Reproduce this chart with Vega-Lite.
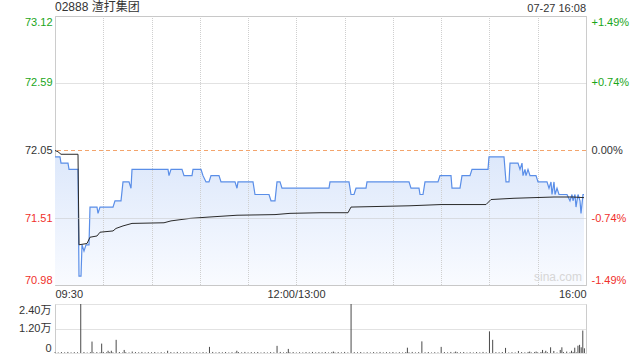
{
  "$schema": "https://vega.github.io/schema/vega-lite/v6.json",
  "padding": {"left": 18, "top": 0, "right": 0, "bottom": 0},
  "background": "white",
  "spacing": 1,
  "config": {
    "font": "Liberation Sans",
    "view": {"stroke": "#cccccc"},
    "axis": {"labelFont": "Liberation Sans, Noto Sans CJK SC", "labelFontSize": 11, "ticks": false, "domain": false, "title": null, "gridColor": "#c4c4c4", "gridDash": [1, 1], "labelColor": "#333333"}
  },
  "datasets": {
    "ref": [{"prevClose": 72.05}],
    "timeGrid": [{"t": 30}, {"t": 60}, {"t": 90}, {"t": 120}, {"t": 150}, {"t": 180}, {"t": 210}, {"t": 240}, {"t": 270}, {"t": 300}],
    "price": [
      {"t": 0, "p": 72.00}, {"t": 3, "p": 72.00}, {"t": 4, "p": 71.95}, {"t": 8, "p": 71.95}, {"t": 9, "p": 71.90}, {"t": 14, "p": 71.90},
      {"t": 15, "p": 71.05}, {"t": 16, "p": 71.05}, {"t": 17, "p": 71.30}, {"t": 18, "p": 71.25}, {"t": 19, "p": 71.30}, {"t": 21, "p": 71.30},
      {"t": 22, "p": 71.60}, {"t": 26, "p": 71.60}, {"t": 27, "p": 71.55}, {"t": 28, "p": 71.60}, {"t": 36, "p": 71.60}, {"t": 37, "p": 71.65},
      {"t": 41, "p": 71.65}, {"t": 42, "p": 71.80}, {"t": 46, "p": 71.80}, {"t": 47, "p": 71.75}, {"t": 48, "p": 71.90}, {"t": 70, "p": 71.90},
      {"t": 71, "p": 71.85}, {"t": 72, "p": 71.90}, {"t": 79, "p": 71.90}, {"t": 80, "p": 71.85}, {"t": 85, "p": 71.85}, {"t": 86, "p": 71.90},
      {"t": 91, "p": 71.90}, {"t": 92, "p": 71.85}, {"t": 94, "p": 71.80}, {"t": 96, "p": 71.80}, {"t": 97, "p": 71.85}, {"t": 102, "p": 71.85},
      {"t": 103, "p": 71.80}, {"t": 112, "p": 71.80}, {"t": 113, "p": 71.75}, {"t": 114, "p": 71.80}, {"t": 123, "p": 71.80}, {"t": 124, "p": 71.70},
      {"t": 133, "p": 71.70}, {"t": 134, "p": 71.65}, {"t": 137, "p": 71.65}, {"t": 138, "p": 71.80}, {"t": 140, "p": 71.80}, {"t": 141, "p": 71.75},
      {"t": 170, "p": 71.75}, {"t": 171, "p": 71.80}, {"t": 183, "p": 71.80}, {"t": 184, "p": 71.70}, {"t": 186, "p": 71.70}, {"t": 187, "p": 71.75},
      {"t": 193, "p": 71.75}, {"t": 194, "p": 71.80}, {"t": 220, "p": 71.80}, {"t": 221, "p": 71.75}, {"t": 226, "p": 71.75}, {"t": 227, "p": 71.70},
      {"t": 229, "p": 71.70}, {"t": 230, "p": 71.80}, {"t": 238, "p": 71.80}, {"t": 239, "p": 71.85}, {"t": 246, "p": 71.85}, {"t": 247, "p": 71.75},
      {"t": 252, "p": 71.75}, {"t": 253, "p": 71.85}, {"t": 258, "p": 71.85}, {"t": 259, "p": 71.90}, {"t": 269, "p": 71.90}, {"t": 270, "p": 72.00},
      {"t": 279, "p": 72.00}, {"t": 280, "p": 71.80}, {"t": 282, "p": 71.80}, {"t": 283, "p": 71.95}, {"t": 288, "p": 71.95}, {"t": 289, "p": 71.90},
      {"t": 290, "p": 71.95}, {"t": 291, "p": 71.85}, {"t": 292, "p": 71.90}, {"t": 293, "p": 71.85}, {"t": 294, "p": 71.90}, {"t": 295, "p": 71.85},
      {"t": 299, "p": 71.85}, {"t": 300, "p": 71.80}, {"t": 306, "p": 71.80}, {"t": 307, "p": 71.75}, {"t": 308, "p": 71.80}, {"t": 309, "p": 71.70},
      {"t": 310, "p": 71.80}, {"t": 311, "p": 71.70}, {"t": 312, "p": 71.75}, {"t": 313, "p": 71.70}, {"t": 318, "p": 71.70}, {"t": 320, "p": 71.65},
      {"t": 321, "p": 71.70}, {"t": 322, "p": 71.65}, {"t": 323, "p": 71.70}, {"t": 324, "p": 71.60}, {"t": 325, "p": 71.70}, {"t": 326, "p": 71.65},
      {"t": 327, "p": 71.55}, {"t": 328, "p": 71.70}, {"t": 329, "p": 71.70}
    ],
    "avg": [
      {"t": 0, "a": 72.05}, {"t": 2, "a": 72.04}, {"t": 4, "a": 72.02}, {"t": 14, "a": 72.02}, {"t": 15, "a": 71.30}, {"t": 20, "a": 71.31},
      {"t": 22, "a": 71.36}, {"t": 26, "a": 71.37}, {"t": 28, "a": 71.40}, {"t": 36, "a": 71.41}, {"t": 38, "a": 71.43}, {"t": 42, "a": 71.45},
      {"t": 48, "a": 71.47}, {"t": 68, "a": 71.475}, {"t": 72, "a": 71.49}, {"t": 84, "a": 71.51}, {"t": 95, "a": 71.52}, {"t": 113, "a": 71.535},
      {"t": 137, "a": 71.54}, {"t": 146, "a": 71.55}, {"t": 165, "a": 71.555}, {"t": 182, "a": 71.555}, {"t": 184, "a": 71.60}, {"t": 220, "a": 71.61},
      {"t": 240, "a": 71.62}, {"t": 268, "a": 71.62}, {"t": 271, "a": 71.66}, {"t": 285, "a": 71.67}, {"t": 310, "a": 71.68}, {"t": 322, "a": 71.68},
      {"t": 329, "a": 71.675}
    ],
    "vol": [
      {"t": 16, "v": 24000}, {"t": 23, "v": 5600}, {"t": 29, "v": 4600}, {"t": 33, "v": 1100}, {"t": 35, "v": 1100}, {"t": 38, "v": 6450},
      {"t": 43, "v": 1500}, {"t": 48, "v": 700}, {"t": 70, "v": 1100}, {"t": 96, "v": 3000}, {"t": 113, "v": 1100}, {"t": 138, "v": 3500},
      {"t": 145, "v": 2000}, {"t": 173, "v": 700}, {"t": 184, "v": 24000}, {"t": 219, "v": 2600}, {"t": 228, "v": 5700}, {"t": 240, "v": 3000},
      {"t": 249, "v": 700}, {"t": 270, "v": 10600}, {"t": 272, "v": 6450}, {"t": 280, "v": 2500}, {"t": 288, "v": 1000}, {"t": 295, "v": 700},
      {"t": 299, "v": 700}, {"t": 303, "v": 1500}, {"t": 305, "v": 1100}, {"t": 308, "v": 2800}, {"t": 310, "v": 1000}, {"t": 314, "v": 1500},
      {"t": 315, "v": 2800}, {"t": 318, "v": 700}, {"t": 321, "v": 1100}, {"t": 323, "v": 2600}, {"t": 325, "v": 3600}, {"t": 326, "v": 4000},
      {"t": 327, "v": 2800}, {"t": 328, "v": 11000}, {"t": 329, "v": 2300},
      {"t": 0, "v": 380}, {"t": 2, "v": 260}, {"t": 4, "v": 450}, {"t": 6, "v": 310}, {"t": 8, "v": 520}, {"t": 10, "v": 290}, {"t": 12, "v": 410},
      {"t": 14, "v": 350}, {"t": 18, "v": 480}, {"t": 20, "v": 240}, {"t": 22, "v": 380}, {"t": 24, "v": 260}, {"t": 26, "v": 450}, {"t": 28, "v": 310},
      {"t": 30, "v": 520}, {"t": 32, "v": 290}, {"t": 34, "v": 410}, {"t": 36, "v": 350}, {"t": 40, "v": 480}, {"t": 42, "v": 240}, {"t": 44, "v": 380},
      {"t": 46, "v": 260}, {"t": 50, "v": 450}, {"t": 52, "v": 310}, {"t": 54, "v": 520}, {"t": 56, "v": 290}, {"t": 58, "v": 410}, {"t": 60, "v": 350},
      {"t": 62, "v": 480}, {"t": 64, "v": 240}, {"t": 66, "v": 380}, {"t": 68, "v": 260}, {"t": 72, "v": 450}, {"t": 74, "v": 310}, {"t": 76, "v": 520},
      {"t": 78, "v": 290}, {"t": 80, "v": 410}, {"t": 82, "v": 350}, {"t": 84, "v": 480}, {"t": 86, "v": 240}, {"t": 88, "v": 380}, {"t": 90, "v": 260},
      {"t": 92, "v": 450}, {"t": 94, "v": 310}, {"t": 98, "v": 520}, {"t": 100, "v": 290}, {"t": 102, "v": 410}, {"t": 104, "v": 350}, {"t": 106, "v": 480},
      {"t": 108, "v": 240}, {"t": 110, "v": 380}, {"t": 112, "v": 260}, {"t": 114, "v": 450}, {"t": 116, "v": 310}, {"t": 118, "v": 520}, {"t": 120, "v": 290},
      {"t": 122, "v": 410}, {"t": 124, "v": 350}, {"t": 126, "v": 480}, {"t": 128, "v": 240}, {"t": 130, "v": 380}, {"t": 132, "v": 260}, {"t": 134, "v": 450},
      {"t": 136, "v": 310}, {"t": 140, "v": 520}, {"t": 142, "v": 290}, {"t": 144, "v": 410}, {"t": 146, "v": 350}, {"t": 148, "v": 480}, {"t": 150, "v": 240},
      {"t": 152, "v": 380}, {"t": 154, "v": 260}, {"t": 156, "v": 450}, {"t": 158, "v": 310}, {"t": 160, "v": 520}, {"t": 162, "v": 290}, {"t": 164, "v": 410},
      {"t": 166, "v": 350}, {"t": 168, "v": 480}, {"t": 170, "v": 240}, {"t": 172, "v": 380}, {"t": 174, "v": 260}, {"t": 176, "v": 450}, {"t": 178, "v": 310},
      {"t": 180, "v": 520}, {"t": 182, "v": 290}, {"t": 186, "v": 410}, {"t": 188, "v": 350}, {"t": 190, "v": 480}, {"t": 192, "v": 240}, {"t": 194, "v": 380},
      {"t": 196, "v": 260}, {"t": 198, "v": 450}, {"t": 200, "v": 310}, {"t": 202, "v": 520}, {"t": 204, "v": 290}, {"t": 206, "v": 410}, {"t": 208, "v": 350},
      {"t": 210, "v": 480}, {"t": 212, "v": 240}, {"t": 214, "v": 380}, {"t": 216, "v": 260}, {"t": 218, "v": 450}, {"t": 220, "v": 310}, {"t": 222, "v": 520},
      {"t": 224, "v": 290}, {"t": 226, "v": 410}, {"t": 230, "v": 350}, {"t": 232, "v": 480}, {"t": 234, "v": 240}, {"t": 236, "v": 380}, {"t": 238, "v": 260},
      {"t": 242, "v": 450}, {"t": 244, "v": 310}, {"t": 246, "v": 520}, {"t": 248, "v": 290}, {"t": 250, "v": 410}, {"t": 252, "v": 350}, {"t": 254, "v": 480},
      {"t": 256, "v": 240}, {"t": 258, "v": 380}, {"t": 260, "v": 260}, {"t": 262, "v": 450}, {"t": 264, "v": 310}, {"t": 266, "v": 520}, {"t": 268, "v": 290},
      {"t": 274, "v": 410}, {"t": 276, "v": 350}, {"t": 278, "v": 480}, {"t": 282, "v": 240}, {"t": 284, "v": 380}, {"t": 286, "v": 260}, {"t": 290, "v": 450},
      {"t": 292, "v": 310}, {"t": 294, "v": 520}, {"t": 296, "v": 290}, {"t": 298, "v": 410}, {"t": 300, "v": 350}, {"t": 302, "v": 480}, {"t": 304, "v": 240},
      {"t": 306, "v": 380}, {"t": 312, "v": 260}, {"t": 316, "v": 450}, {"t": 320, "v": 310}, {"t": 322, "v": 520}, {"t": 324, "v": 290}
    ]
  },
  "vconcat": [
    {
      "width": 531,
      "height": 269,
      "title": {"text": "02888 渣打集团", "anchor": "start", "frame": "group", "fontSize": 12, "fontWeight": "normal", "font": "Liberation Sans, Noto Sans CJK SC", "color": "#333333", "offset": -11},
      "layer": [
        {
          "data": {"name": "price"},
          "mark": {"type": "area", "color": {"gradient": "linear", "x1": 0, "y1": 0, "x2": 0, "y2": 1, "stops": [{"offset": 0, "color": "#dde8fb"}, {"offset": 1, "color": "#f9fbff"}]}},
          "encoding": {
            "x": {"field": "t", "type": "quantitative", "scale": {"domain": [0, 330], "nice": false, "zero": false, "round": true},
                  "axis": {"values": [0, 150, 330], "labelExpr": "datum.value==0?'09:30':datum.value==150?'12:00/13:00':'16:00'", "labelFlush": true, "labelOverlap": false, "grid": false, "labelPadding": 3}},
            "y": {"field": "p", "type": "quantitative", "scale": {"domain": [70.98, 73.12], "nice": false, "zero": false},
                  "axis": {"orient": "left", "values": [70.98, 71.51, 72.05, 72.59, 73.12], "format": ".2f", "labelFlush": true, "grid": true, "zindex": 1, "labelPadding": 3,
                           "gridOpacity": {"condition": {"test": "datum.value > 72 && datum.value < 72.1", "value": 0}, "value": 1},
                           "labelColor": {"expr": "datum.value > 72.1 ? '#1aa61a' : (datum.value < 72 ? '#f0302b' : '#333333')"}}},
            "y2": {"datum": 70.98}
          }
        },
        {
          "data": {"name": "timeGrid"},
          "mark": {"type": "rule", "color": "#cfcfcf", "strokeDash": [1, 1], "strokeWidth": 1, "xOffset": 0.5},
          "encoding": {"x": {"field": "t", "type": "quantitative"}}
        },
        {
          "data": {"name": "ref"},
          "mark": {"type": "rule", "color": "#f3a46c", "strokeDash": [4, 3], "strokeWidth": 1},
          "encoding": {"y": {"field": "prevClose", "type": "quantitative", "axis": null}}
        },
        {
          "data": {"name": "price"},
          "mark": {"type": "line", "color": "#5a8ee8", "strokeWidth": 1.2},
          "encoding": {
            "x": {"field": "t", "type": "quantitative"},
            "y": {"field": "p", "type": "quantitative",
                  "axis": {"orient": "right", "values": [70.98, 71.51, 72.05, 72.59, 73.12], "labelFlush": true, "grid": false, "labelPadding": 5,
                           "labelExpr": "datum.value > 73 ? '+1.49%' : (datum.value > 72.5 ? '+0.74%' : (datum.value > 72 ? '0.00%' : (datum.value > 71.5 ? '-0.74%' : '-1.49%')))",
                           "labelColor": {"expr": "datum.value > 72.1 ? '#1aa61a' : (datum.value < 72 ? '#f0302b' : '#333333')"}}}
          }
        },
        {
          "data": {"name": "avg"},
          "mark": {"type": "line", "color": "#2a2a2a", "strokeWidth": 1},
          "encoding": {
            "x": {"field": "t", "type": "quantitative"},
            "y": {"field": "a", "type": "quantitative", "axis": null}
          }
        },
        {
          "data": {"name": "ref"},
          "mark": {"type": "text", "text": "sina.com", "align": "right", "baseline": "bottom", "fontSize": 12, "color": "#d6d6d6", "font": "Liberation Sans", "dx": -4, "dy": -1},
          "encoding": {
            "x": {"datum": 330, "type": "quantitative"},
            "y": {"datum": 70.98, "type": "quantitative", "axis": null}
          }
        },
        {
          "data": {"name": "ref"},
          "mark": {"type": "text", "text": "07-27 16:08", "align": "right", "baseline": "alphabetic", "fontSize": 11, "color": "#333333", "font": "Liberation Sans", "dy": -4},
          "encoding": {
            "x": {"datum": 330, "type": "quantitative"},
            "y": {"datum": 73.12, "type": "quantitative", "axis": null}
          }
        }
      ],
      "resolve": {"axis": {"y": "independent"}}
    },
    {
      "width": 531,
      "height": 49,
      "view": {"stroke": null},
      "data": {"name": "vol"},
      "layer": [
        {
          "mark": {"type": "rule", "color": "#4a4a4a", "strokeWidth": 1},
          "encoding": {
            "x": {"field": "t", "type": "quantitative", "scale": {"domain": [0, 330], "nice": false, "zero": false}, "axis": null},
            "y": {"field": "v", "type": "quantitative", "scale": {"domain": [0, 24000], "nice": false},
                  "axis": {"orient": "left", "values": [0, 12000, 24000], "labelFlush": true, "grid": true, "domain": true, "domainColor": "#cccccc", "labelPadding": 4,
                           "labelExpr": "datum.value == 0 ? '0' : format(datum.value / 10000, '.2f') + '万'"}},
            "y2": {"datum": 0}
          }
        },
        {
          "mark": {"type": "point", "opacity": 0},
          "encoding": {
            "x": {"field": "t", "type": "quantitative", "scale": {"domain": [0, 330], "nice": false, "zero": false}, "axis": null},
            "y": {"field": "v", "type": "quantitative", "axis": {"orient": "right", "labels": false, "grid": false, "domain": true, "domainColor": "#cccccc"}}
          }
        }
      ],
      "resolve": {"axis": {"y": "independent"}}
    }
  ]
}
